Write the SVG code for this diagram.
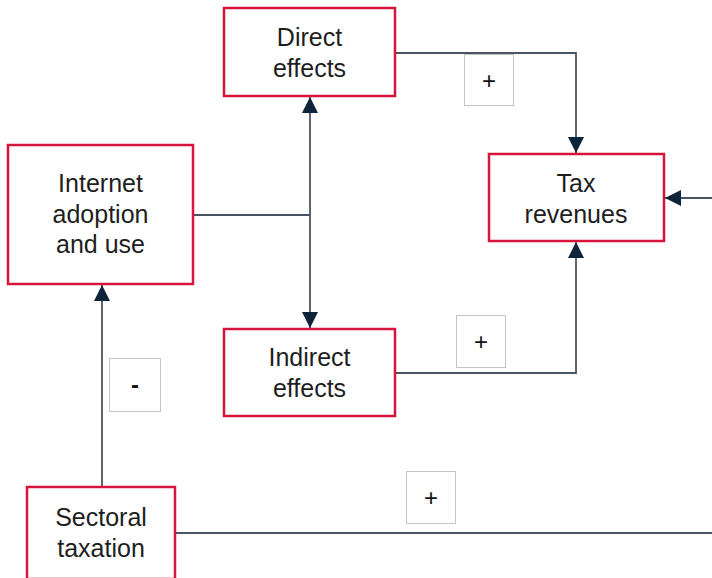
<svg xmlns="http://www.w3.org/2000/svg" width="712" height="578" viewBox="0 0 712 578">
<style>
.node{fill:#fff;stroke:#d7143c;stroke-width:2.5}
.t{font-family:"Liberation Sans",Arial,sans-serif;font-size:25px;fill:#1e1e1e;text-anchor:middle}
.c{fill:none;stroke:#4a5563;stroke-width:1.8}
.lb{fill:#fff;stroke:#c4c4c4;stroke-width:1}
.lt{font-family:"Liberation Sans",Arial,sans-serif;font-size:24px;fill:#111;text-anchor:middle}
</style>
<defs>
<marker id="ah" viewBox="0 0 16 16" refX="16" refY="8" markerWidth="16" markerHeight="16" markerUnits="userSpaceOnUse" orient="auto">
<path d="M0,0 L16,8 L0,16 Z" fill="#0e2438"/>
</marker>
</defs>
<g id="connectors">
<path class="c" d="M395,53 H576 V153" marker-end="url(#ah)"/>
<path class="c" d="M712,198 H665" marker-end="url(#ah)"/>
<path class="c" d="M193,215 H310"/>
<path class="c" d="M310,215 V97" marker-end="url(#ah)"/>
<path class="c" d="M310,215 V328" marker-end="url(#ah)"/>
<path class="c" d="M395,373 H576 V242" marker-end="url(#ah)"/>
<path class="c" d="M102,487 V285" marker-end="url(#ah)"/>
<path class="c" d="M175,533 H712"/>
</g>
<g id="label-plus-top"><rect class="lb" x="464.5" y="54.5" width="49" height="51"/><text class="lt" x="489" y="89">+</text></g>
<g id="label-plus-mid"><rect class="lb" x="456.5" y="315.5" width="49" height="52"/><text class="lt" x="481" y="350">+</text></g>
<g id="label-minus"><rect class="lb" x="109.5" y="358.5" width="51" height="53"/><text class="lt" x="135" y="393" font-weight="bold">-</text></g>
<g id="label-plus-bottom"><rect class="lb" x="406.5" y="471.5" width="49" height="52"/><text class="lt" x="431" y="506">+</text></g>
<g id="direct-effects"><rect class="node" x="224" y="8" width="171" height="88"/><text class="t" x="309.5" y="46">Direct</text><text class="t" x="309.5" y="77">effects</text></g>
<g id="tax-revenues"><rect class="node" x="489" y="154" width="175" height="87"/><text class="t" x="576" y="192">Tax</text><text class="t" x="576" y="223">revenues</text></g>
<g id="internet-adoption"><rect class="node" x="8" y="145" width="185" height="139"/><text class="t" x="100.5" y="192">Internet</text><text class="t" x="100.5" y="223">adoption</text><text class="t" x="100.5" y="253">and use</text></g>
<g id="indirect-effects"><rect class="node" x="224" y="329" width="171" height="87"/><text class="t" x="309.5" y="366">Indirect</text><text class="t" x="309.5" y="397">effects</text></g>
<g id="sectoral-taxation"><rect class="node" x="27" y="487" width="148" height="92"/><text class="t" x="101" y="526">Sectoral</text><text class="t" x="101" y="557">taxation</text></g>
</svg>
